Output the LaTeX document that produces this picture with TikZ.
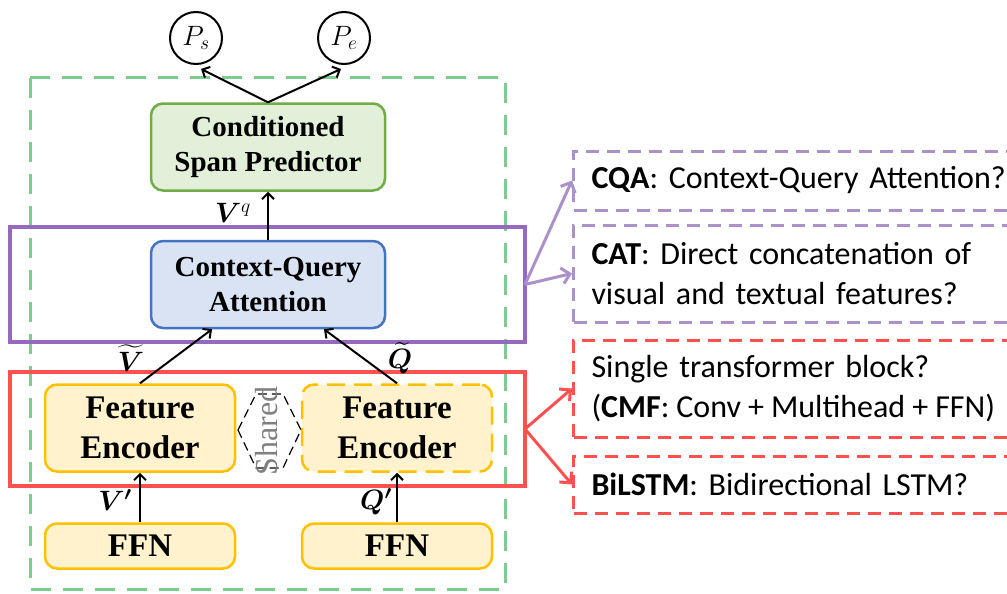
\RequirePackage{fix-cm}
\documentclass[tikz,border=0pt]{standalone}
\usepackage{amsmath,bm}
\usepackage{fontspec}
\setmainfont{Liberation Serif}
\newfontfamily\calib{Carlito}
\usetikzlibrary{arrows.meta,calc}

\definecolor{grnDash}{RGB}{125,205,145}
\definecolor{bandPurple}{RGB}{150,105,190}
\definecolor{bandRed}{RGB}{255,80,80}
\definecolor{optPurple}{RGB}{170,145,200}
\definecolor{spanFill}{RGB}{226,240,217}
\definecolor{spanLine}{RGB}{112,173,71}
\definecolor{cqaFill}{RGB}{218,227,243}
\definecolor{cqaLine}{RGB}{68,114,196}
\definecolor{encFill}{RGB}{255,242,204}
\definecolor{encLine}{RGB}{255,192,0}
\definecolor{sharedGray}{RGB}{128,128,128}

\begin{document}
\begin{tikzpicture}[x=1pt,y=-1pt,
  blockbox/.style={draw, line width=2.5pt, rounded corners=12pt, align=center, inner sep=0pt},
  midfont/.style={font=\fontsize{29}{35}\selectfont\bfseries},
  bigfont/.style={font=\fontsize{33}{40}\selectfont\bfseries},
  band/.style={line width=4pt},
  optbox/.style={draw, line width=3pt, dash pattern=on 13pt off 8pt, anchor=west,
    align=left, inner xsep=18pt, inner ysep=0pt, text width=430pt,
    font=\calib\fontsize{32}{40}\selectfont},
  prob/.style={circle, draw, line width=2pt, minimum size=52pt, inner sep=0pt,
    font=\fontsize{28}{32}\selectfont},
  flow/.style={line width=2pt, -{Straight Barb[length=6pt,width=12pt,line width=2pt]}},
  optarrow/.style={line width=3pt, -{Straight Barb[length=8pt,width=16pt,line width=3pt]}},
  lbl/.style={inner sep=0pt, font=\fontsize{28}{32}\selectfont}]

\useasboundingbox (0,0) rectangle (1007,594);

% outer dashed frame of the model
\draw[grnDash, line width=3pt, dash pattern=on 20pt off 12pt] (30,78) rectangle (505,589);

% highlighted stages, with the points their option arrows leave from
\draw[band, bandPurple] (10,227) rectangle (525,342);
\draw[band, bandRed] (10,372) rectangle (525,486);
\coordinate (pbandE) at (525,284.5);
\coordinate (rbandE) at (525,429);

% output probabilities
\node[prob] (ps) at (196,38) {$P_s$};
\node[prob] (pe) at (344,38) {$P_e$};

% main blocks
\node[blockbox, midfont, draw=spanLine, fill=spanFill, minimum width=234pt, minimum height=87pt]
  (span) at (268,147) {Conditioned\\Span Predictor};
\node[blockbox, midfont, draw=cqaLine, fill=cqaFill, minimum width=234pt, minimum height=87pt]
  (cqa) at (268,284.5) {Context-Query\\Attention};
\node[blockbox, bigfont, draw=encLine, fill=encFill, minimum width=190pt, minimum height=87pt]
  (encv) at (140,428) {Feature\\Encoder};
\node[blockbox, bigfont, draw=encLine, fill=encFill, dash pattern=on 18pt off 9pt,
      minimum width=190pt, minimum height=87pt]
  (encq) at (397,428) {Feature\\Encoder};
\node[blockbox, bigfont, draw=encLine, fill=encFill, minimum width=190pt, minimum height=45pt]
  (ffnv) at (140,546) {FFN};
\node[blockbox, bigfont, draw=encLine, fill=encFill, minimum width=190pt, minimum height=45pt]
  (ffnq) at (397,546) {FFN};

% weight sharing between the two encoders
\draw[line width=1.2pt, dash pattern=on 9pt off 5pt]
  (238,430) -- (256,394) -- (283,394) -- (301,430) -- (283,468) -- (256,468) -- cycle;
\node[rotate=90, text=sharedGray, inner sep=0pt, font=\fontsize{32}{36}\selectfont]
  (shared) at (267,431) {Shared};

% data flow
\draw[flow] (span.north) -- ($(ps.south)+(5,4)$);
\draw[flow] (span.north) -- ($(pe.south)+(-3,4)$);
\draw[flow] (cqa.north) -- (span.south);
\draw[flow] (encv.north) -- ($(cqa.south)+(-56,0)$);
\draw[flow] (encq.north) -- ($(cqa.south)+(56,0)$);
\draw[flow] (ffnv.north) -- (encv.south);
\draw[flow] (ffnq.north) -- (encq.south);

\node[lbl] (lvq) at (233,213) {$\bm{V}^{q}$};
\node[lbl] (lvt) at (131,358) {$\bm{\widetilde{V}}$};
\node[lbl] (lqt) at (400,358) {$\bm{\widetilde{Q}}$};
\node[lbl] (lvp) at (115,500) {$\bm{V'}$};
\node[lbl] (lqp) at (376,502) {$\bm{Q'}$};

% alternative designs for each stage
\node[optbox, draw=optPurple, minimum height=59pt] (optcqa) at (572,180.5)
  {\textbf{CQA}: Context-Query Attention?};
\node[optbox, draw=optPurple, minimum height=97pt] (optcat) at (572,273.5)
  {\textbf{CAT}: Direct concatenation of\\visual and textual features?};
\node[optbox, draw=bandRed, minimum height=97pt] (optcmf) at (572,388.5)
  {Single transformer block?\\{\spaceskip=0.22em\relax(\textbf{CMF}: Conv + Multihead + FFN)}};
\node[optbox, draw=bandRed, minimum height=57pt] (optlstm) at (572,484.5)
  {\textbf{BiLSTM}: Bidirectional LSTM?};

\draw[optarrow, draw=optPurple] (pbandE) -- (optcqa.west);
\draw[optarrow, draw=optPurple] (pbandE) -- (optcat.west);
\draw[optarrow, draw=bandRed] (rbandE) -- (optcmf.west);
\draw[optarrow, draw=bandRed] (rbandE) -- (optlstm.west);

\end{tikzpicture}
\end{document}
